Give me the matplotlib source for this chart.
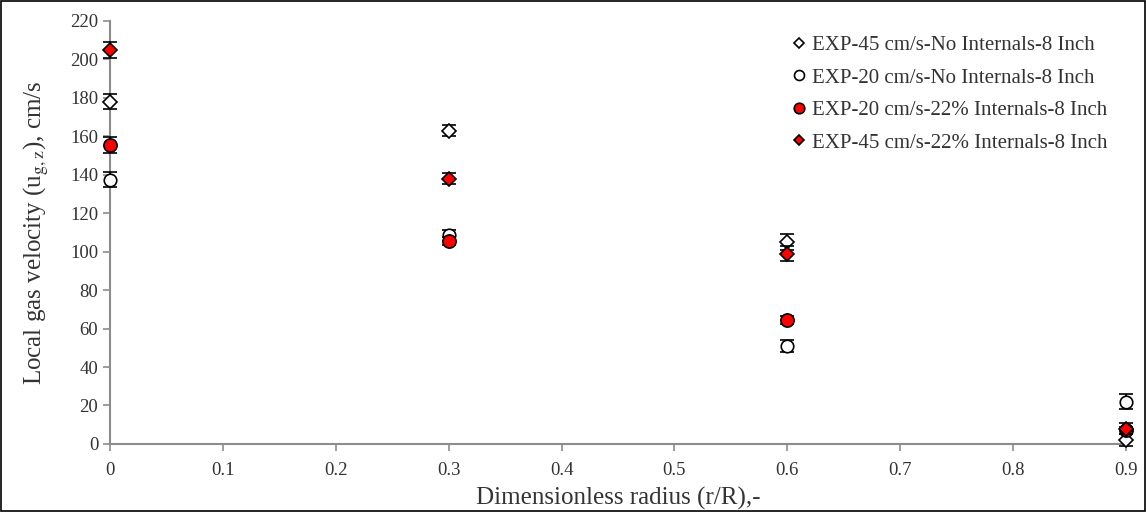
import numpy as np
import matplotlib.pyplot as plt
from matplotlib.lines import Line2D

plt.rcParams['font.family'] = ['Liberation Serif', 'DejaVu Serif']
plt.rcParams['mathtext.fontset'] = 'stix'

## ------------  Data  ---------------
r = [0.0, 0.3, 0.6, 0.9]
labels = ['EXP-45 cm/s-No Internals-8 Inch',
          'EXP-20 cm/s-No Internals-8 Inch',
          'EXP-20 cm/s-22% Internals-8 Inch',
          'EXP-45 cm/s-22% Internals-8 Inch']
u45_no = [178, 163, 105, 2]
u20_no = [137.5, 108.5, 51, 22]
u20_int = [155.5, 105.5, 64.5, 7]
u45_int = [205, 138, 99, 8]
err45_no = [4, 3, 4, 3]
err20_no = [4, 3, 3, 4]
err20_int = [4, 2, 2, 2]
err45_int = [4, 3, 4, 3]

## ------------  Plot  ---------------
fig = plt.figure(figsize=(11.46, 5.12), dpi=100)
ax = fig.add_axes([0.096, 0.133, 0.8865, 0.826])

series = [
    (u45_no, err45_no, 'D', 'white', 7),
    (u20_no, err20_no, 'o', 'white', 9),
    (u20_int, err20_int, 'o', 'red', 9.5),
    (u45_int, err45_int, 'D', 'red', 7),
]
handles = []
for i, (y, e, m, fc, ms) in enumerate(series):
    ax.errorbar(r, y, yerr=e, fmt=m, mfc=fc, mec='black', mew=1.2, ms=ms,
                ecolor='black', elinewidth=1.2, capsize=5, capthick=1.5,
                zorder=3 + i, clip_on=False)
    handles.append(Line2D([], [], ls='none', marker=m, mfc=fc, mec='black',
                          mew=1.2, ms=ms * 0.8, label=labels[i]))

ax.set_xlim(0, 0.9)
ax.set_ylim(0, 220)
ax.set_xticks(np.arange(0, 0.91, 0.1))
ax.set_xticklabels(['0'] + ['%.1f' % v for v in np.arange(0.1, 0.91, 0.1)])
ax.set_yticks(np.arange(0, 221, 20))
for s in ['top', 'right']:
    ax.spines[s].set_visible(False)
for s in ['left', 'bottom']:
    ax.spines[s].set_color('#8c8c8c')
    ax.spines[s].set_linewidth(1.5)
ax.tick_params(axis='both', colors='#8c8c8c', labelcolor='#333333',
               labelsize=13.5, length=5, width=1.2)
ax.tick_params(axis='x', pad=8)

ax.set_xlabel('Dimensionless radius (r/R),-', fontsize=18, color='#333333', labelpad=6)
ax.set_ylabel(r'Local gas velocity (u$_{\mathrm{g,z}}$), cm/s', fontsize=18,
              color='#333333', labelpad=14)

leg = ax.legend(handles=handles, loc='upper right', bbox_to_anchor=(1.0, 1.01),
                frameon=False, fontsize=15, handletextpad=0.0, handlelength=1.2,
                labelspacing=0.62)
for t in leg.get_texts():
    t.set_color('#333333')

fig.patches.append(plt.Rectangle((0.001, 0.002), 0.998, 0.996, transform=fig.transFigure,
                                 fill=False, edgecolor='black', linewidth=1.2))

fig.savefig('out.png', dpi=100)
